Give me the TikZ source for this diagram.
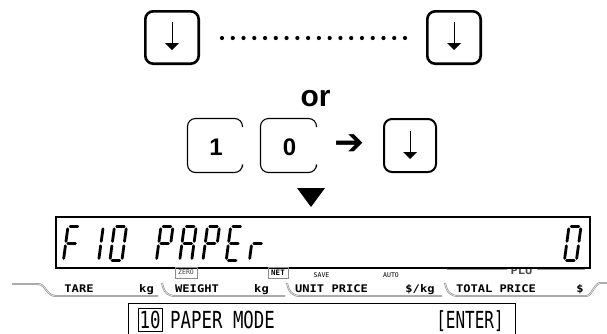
\documentclass[tikz,border=0pt]{standalone}
\usepackage{fontspec}
\usepackage{graphicx}
\setmainfont{Liberation Sans}
\newfontfamily\monofont{DejaVu Sans Mono}
\newfontfamily\symfont{DejaVu Sans}
\newcommand\sgA{\draw[seg] (2.2,-34)--(9.8,-34);}
\newcommand\sgB{\draw[seg] (12,-31.8)--(12,-19.2);}
\newcommand\sgC{\draw[seg] (12,-14.8)--(12,-2.2);}
\newcommand\sgD{\draw[seg] (2.2,0)--(9.8,0);}
\newcommand\sgE{\draw[seg] (0,-14.8)--(0,-2.2);}
\newcommand\sgF{\draw[seg] (0,-31.8)--(0,-19.2);}
\newcommand\sgG{\draw[seg] (2.2,-17)--(9.8,-17);}
\newcommand\sevseg[2]{\begin{scope}[shift={(#1,260.6)},xslant=0.135]#2\end{scope}}
\begin{document}
\begin{tikzpicture}[x=1pt,y=-1pt,
  keybox/.style={draw, line width=2.6pt, rounded corners=8pt, minimum width=53.4pt, minimum height=52.4pt, inner sep=0pt},
  keyboxb/.style={draw, line width=2pt, rounded corners=8pt, minimum width=52pt, minimum height=53pt, inner sep=0pt},
  thinkey/.style={draw, line width=1.1pt, rounded corners=8pt},
  seg/.style={line width=2.8pt, line cap=round},
  band/.style={draw=black!45, double=black!10, double distance=0.7pt, line width=0.6pt},
  lbl/.style={inner sep=0pt, anchor=base, font=\monofont\bfseries\fontsize{10.5}{12}\selectfont},
  tiny/.style={inner sep=0pt, font=\monofont\fontsize{6.5}{7}\selectfont},
  big/.style={inner sep=0pt, font=\monofont\fontsize{23.5}{26}\selectfont},
  dnarrow/.style={line width=1pt}
]
\useasboundingbox (0,0) rectangle (607,333);

% top row
\node[keybox] (k1) at (172,37.5) {};
\node[keybox] (k2) at (454,37.5) {};
\foreach \i in {0,...,17} \fill (222+\i*10.765,38) circle[radius=2.1pt];
\draw[dnarrow] (172,22) -- (172,44);
\fill (165,43) -- (179,43) -- (172,50) -- cycle;
\draw[dnarrow] (454,22) -- (454,44);
\fill (447,43) -- (461,43) -- (454,50) -- cycle;

\node[inner sep=0pt, anchor=base, font=\bfseries\fontsize{30}{34}\selectfont] (or) at (315.5,106) {or};

% second row
\draw[thinkey] (242.5,127) -- (242.5,118.5) -- (187.5,118.5) -- (187.5,172.5) -- (242.5,172.5) -- (242.5,167);
\draw[thinkey] (316.5,127) -- (316.5,118.5) -- (260.5,118.5) -- (260.5,172.5) -- (316.5,172.5) -- (316.5,167);
\node[inner sep=0pt, anchor=base, font=\bfseries\fontsize{24}{28}\selectfont] (one) at (216,155) {1};
\node[inner sep=0pt, anchor=base, font=\bfseries\fontsize{24}{28}\selectfont] (zero) at (289.5,155) {0};
\node[inner sep=0pt, font=\symfont\fontsize{36}{40}\selectfont] (arr) at (350,145) {➔};
\node[keyboxb] (k3) at (410,145.5) {};
\draw[dnarrow] (410,131) -- (410,153);
\fill (403,152) -- (417,152) -- (410,159) -- cycle;

% triangle
\fill (297,188) -- (325,188) -- (311,207) -- cycle;

% PLU bars (under LCD)
\draw[black!40, line width=2.5pt] (447,269) -- (507,269);
\draw[black!40, line width=2.5pt] (537,269) -- (585,269);
\node[lbl, text=black!70] (plu) at (521.5,274) {\scalebox{1.15}[1]{PLU}};

% LCD
\draw[line width=1.6pt, fill=white] (56,217) rectangle (590,268);
\sevseg{63.4}{\sgA\sgF\sgG\sgE}
\sevseg{86.65}{\sgB\sgC}
\sevseg{109.9}{\sgA\sgB\sgC\sgD\sgE\sgF}
\sevseg{156.4}{\sgA\sgB\sgF\sgG\sgE}
\sevseg{179.65}{\sgA\sgB\sgC\sgF\sgG\sgE}
\sevseg{202.9}{\sgA\sgB\sgF\sgG\sgE}
\sevseg{226.15}{\sgA\sgD\sgE\sgF\sgG}
\sevseg{249.4}{\sgE\sgG}
\sevseg{564.4}{\sgA\sgB\sgC\sgD\sgE\sgF}

% label bands
\draw[band] (12,284) -- (38,284) .. controls (46,284) and (46,296) .. (56,296) -- (158,296);
\draw[band] (162,283) .. controls (164,293) and (168,296) .. (176,296) -- (285,296);
\draw[band] (287,283) .. controls (289,293) and (293,296) .. (301,296) -- (442,296);
\draw[band] (445,283) .. controls (447,293) and (451,296) .. (459,296) -- (586,296) .. controls (592,296) and (594,284) .. (600,283) -- (607,283);

\node[lbl] (tare) at (79,292) {\scalebox{1.15}[1]{TARE}};
\node[lbl] (kg1) at (146.5,292) {\scalebox{1.15}[1]{kg}};
\node[lbl] (weight) at (197,292) {\scalebox{1.15}[1]{WEIGHT}};
\node[lbl] (kg2) at (261.5,292) {\scalebox{1.15}[1]{kg}};
\node[lbl] (unit) at (331.5,292) {\scalebox{1.15}[1]{UNIT PRICE}};
\node[lbl] (perkg) at (420,292) {\scalebox{1.15}[1]{\$/kg}};
\node[lbl] (total) at (496,292) {\scalebox{1.15}[1]{TOTAL PRICE}};
\node[lbl] (dollar) at (580,292) {\scalebox{1.15}[1]{\$}};

\draw[black!45, line width=0.6pt] (175,267) rectangle (197,278);
\node[tiny, text=black!75] (zerol) at (186,272.5) {ZERO};
\draw[black!45, line width=0.6pt] (268,267) rectangle (288,278);
\node[tiny, font=\monofont\bfseries\fontsize{7.5}{8}\selectfont] (net) at (278,272.5) {NET};
\node[tiny] (save) at (321.5,275.5) {SAVE};
\node[tiny] (auto) at (391,275.5) {AUTO};

% bottom box
\begin{scope}
\clip (0,0) rectangle (607,333);
\draw[line width=1.5pt] (128.5,303.5) rectangle (515.5,340);
\end{scope}
\draw[line width=0.9pt] (138,308) rectangle (162,331);
\node[big, anchor=base] (ten) at (150,328) {\scalebox{0.74}[1]{10}};
\node[big, anchor=base west] (mode) at (170,328) {\scalebox{0.74}[1]{PAPER MODE}};
\node[big, anchor=base] (enter) at (470,328) {\scalebox{0.68}[1]{[ENTER]}};
\end{tikzpicture}
\end{document}
